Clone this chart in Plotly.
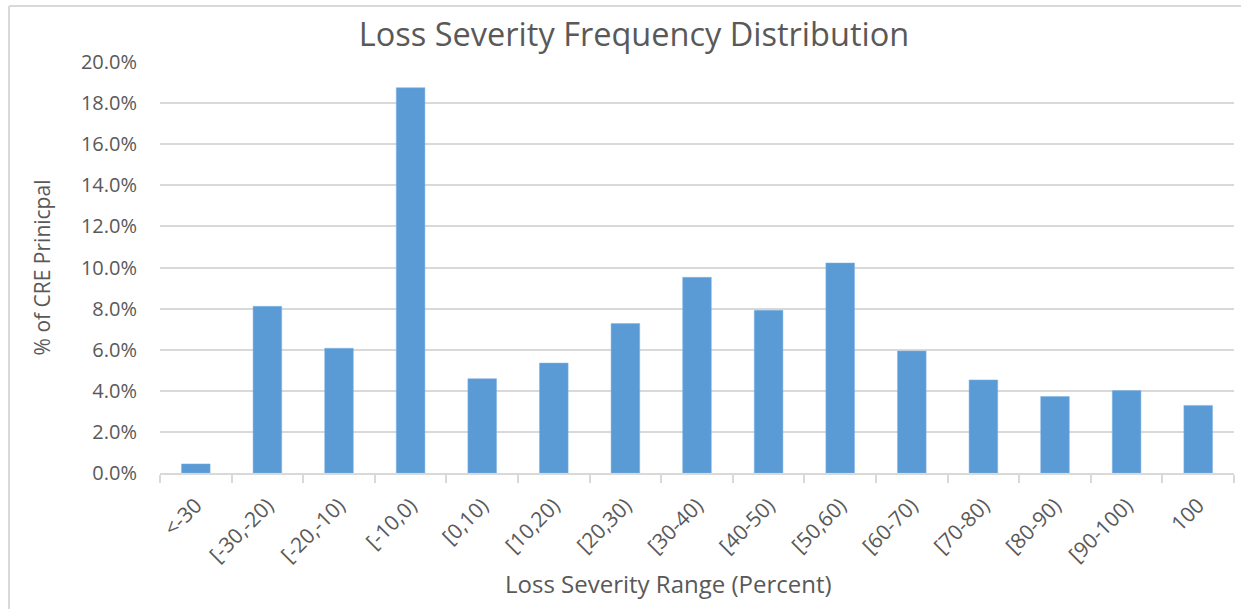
import plotly.graph_objects as go

# Loss severity buckets and share of CRE principal (percent)
categories = ["<-30", "[-30,-20)", "[-20,-10)", "[-10,0)", "[0,10)", "[10,20)",
              "[20,30)", "[30-40)", "[40-50)", "[50,60)", "[60-70)", "[70-80)",
              "[80-90)", "[90-100)", "100"]
pct_principal = [0.44, 8.11, 6.07, 18.75, 4.59, 5.35, 7.27, 9.52, 7.92, 10.22,
                 5.94, 4.53, 3.72, 4.01, 3.29]
y_ticks = [0, 2, 4, 6, 8, 10, 12, 14, 16, 18, 20]

FONT = "'Open Sans', sans-serif"
GREY_TXT = "#595959"
GRID = "#d9d9d9"

fig = go.Figure(
    go.Bar(x=categories, y=pct_principal, marker=dict(color="#5b9bd5",
           line=dict(color="#7fb2e3", width=0.5)))
)

W, H = 1241, 609
L, R, T, B = 160, 7, 62, 136
pw, ph = W - L - R, H - T - B

fig.update_layout(
    width=W, height=H,
    margin=dict(l=L, r=R, t=T, b=B),
    paper_bgcolor="white", plot_bgcolor="white",
    bargap=0.6,
    showlegend=False,
    font=dict(family=FONT, color=GREY_TXT),
    title=dict(text="Loss Severity Frequency Distribution",
               font=dict(size=32.5, color=GREY_TXT, family=FONT),
               x=634 / W, xanchor="center", xref="container",
               y=1 - 35 / H, yanchor="middle", yref="container"),
    xaxis=dict(
        tickangle=-45, tickfont=dict(size=21, color=GREY_TXT),
        showline=True, linecolor=GRID, linewidth=2,
        ticks="outside", tickson="boundaries", ticklen=8,
        tickcolor=GRID, tickwidth=2,
        ticklabelstandoff=10,
        showgrid=False,
    ),
    yaxis=dict(
        title=dict(text="% of CRE Prinicpal",
                   font=dict(size=21, color=GREY_TXT), standoff=24),
        range=[0, 20], tickvals=y_ticks,
        ticktext=[f"{v:.1f}%" for v in y_ticks],
        tickfont=dict(size=20, color=GREY_TXT),
        showgrid=True, gridcolor=GRID, gridwidth=2,
        zeroline=False, ticks="", ticklabelstandoff=22,
    ),
)

# x-axis title sits left of the plot centre in the original, so place it by hand
fig.add_annotation(text="Loss Severity Range (Percent)", showarrow=False,
                   xref="paper", yref="paper",
                   x=(668 - L) / pw, y=-(583 - (H - B)) / ph,
                   xanchor="center", yanchor="middle",
                   font=dict(size=24, color=GREY_TXT))

# chart-area border (left and top edges visible in the picture)
bx = (9 - L) / pw
by = 1 + (T - 6) / ph
fig.add_shape(type="line", xref="paper", yref="paper",
              x0=bx, x1=bx, y0=by, y1=-(B + 10) / ph,
              line=dict(color=GRID, width=2))
fig.add_shape(type="line", xref="paper", yref="paper",
              x0=bx, x1=1 + (R + 10) / pw, y0=by, y1=by,
              line=dict(color=GRID, width=2))

# drop the default page margin so the figure sits at the window's corner
fig.write_html("out.html", config={"displayModeBar": False},
               post_script="document.body.style.margin='0';")
